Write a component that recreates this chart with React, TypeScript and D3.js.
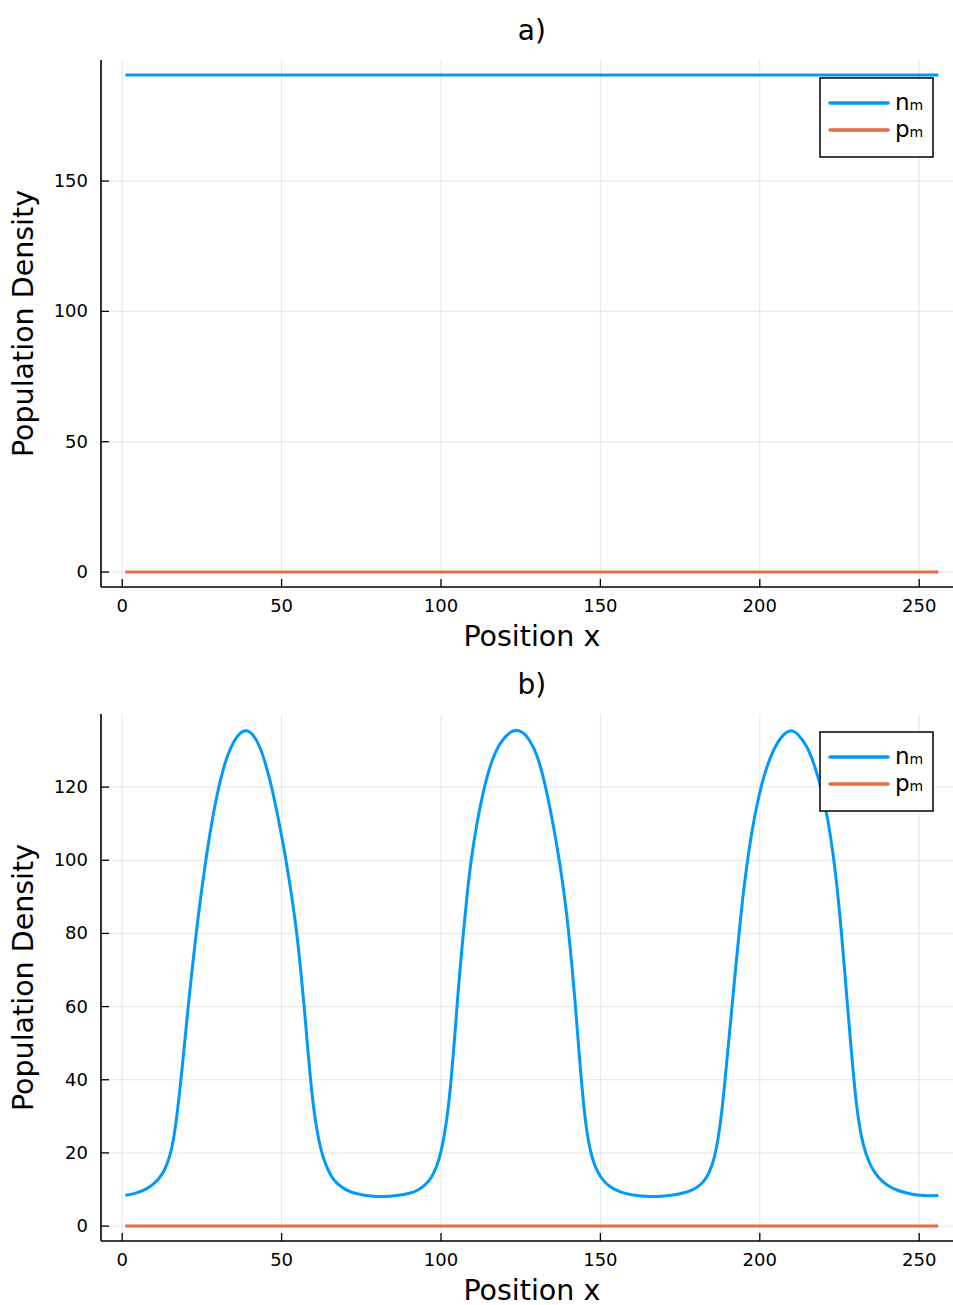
import React from "react";
import * as d3 from "d3";

// ---- data ----
const xTicks = [0, 50, 100, 150, 200, 250];
const yTicksA = [0, 50, 100, 150];
const yTicksB = [0, 20, 40, 60, 80, 100, 120];

// panel a): constant profiles
const xA = [1, 256];
const nA = [190.7, 190.7];
const pA = [0, 0];

// panel b): read-off profile of n_m
const xB = [
  1, 4, 6.6, 9, 11.3, 13.2, 14.8, 16, 17, 18, 18.9, 19.8, 20.7, 21.9, 23.2, 24.6, 26.2, 28, 30.2, 32, 33.8, 36, 38.7,
  41, 43.2, 45, 46.9, 48.5, 50.1, 51.7, 53.3, 54.8, 56, 57.1, 58.1, 59, 60, 61, 62.3, 63.7, 65.5, 67.3, 70, 73.6, 78, 82,
  86, 90.4, 93, 95.1, 97, 98.7, 100.1, 101.3, 102.4, 103.3, 104.2, 105, 106, 107, 108.1, 109.4, 111.2, 113.4, 115.6, 118, 121, 124,
  126.5, 129.1, 131, 132.7, 134.2, 135.8, 137.3, 138.7, 140, 141.1, 142.1, 143, 143.8, 144.8, 145.9, 147.3, 149, 151, 153.1, 156, 160.5, 164, 167.8,
  172, 177.2, 180, 182.5, 184.2, 185.6, 186.9, 188.1, 189.1, 190.2, 191.3, 192.4, 193.5, 194.6, 195.9, 197.5, 199.5, 201.5, 204, 206.7, 209.5,
  212, 214.9, 217.2, 219.4, 221.3, 223, 224.4, 225.5, 226.5, 227.5, 228.5, 229.5, 230.6, 231.8, 233.2, 234.8, 237, 240.1, 243, 246, 249.5, 253, 256,
];
const nB = [
  8.4, 8.9, 9.7, 10.9, 12.6, 15.0, 18.5, 23, 29, 36.5, 44, 52, 60, 70, 80, 90, 100, 110, 120, 126, 130.4, 134.1, 135.9,
  134.6, 131.2, 126.4, 120, 113.5, 106.3, 98.5, 89.6, 80, 70, 60, 49.5, 40.5, 32.5, 26.5, 20.8, 17, 13.6, 11.6, 9.9, 8.7, 8.2, 8.0,
  8.3, 8.9, 9.9, 11.2, 13.2, 16.2, 20.5, 26, 33, 41, 50.5, 60, 70.5, 80, 90, 100, 110, 119.5, 126.5, 131.5, 134.8, 135.9,
  134.6, 131, 126.5, 120.5, 114.3, 106.8, 99, 90.5, 81, 71, 61, 51, 42, 32.5, 24.5, 18.7, 14.8, 12.3, 10.6, 9.3, 8.4, 8.1, 8.0,
  8.3, 9.2, 10.3, 12.1, 14.6, 18, 23.5, 31, 40, 50, 60, 70.4, 80, 89.5, 98.5, 108, 117, 123.8, 129.8, 133.9, 135.9,
  134.6, 131.2, 126, 119.5, 111.5, 102, 91.5, 81.5, 71, 60.5, 50, 40, 31, 24.5, 19.8, 16.3, 13.3, 11, 9.8, 9, 8.4, 8.2, 8.4,
];
const pB = xB.map(() => 0);

const seriesNames = ["n", "p"];
const seriesColors = ["#009AFA", "#E26F46"];

const FONT = "DejaVu Sans, sans-serif";

type PanelProps = {
  title: string;
  top: number;
  bottom: number;
  xs: number[];
  n: number[];
  p: number[];
  yTicks: number[];
};

function Panel({ title, top, bottom, xs, n, p, yTicks }: PanelProps) {
  const left = 101;
  const right = 962.7;
  const xmin = d3.min(xs) as number, xmax = d3.max(xs) as number;
  const xpad = (xmax - xmin) * 0.03;
  const x = d3.scaleLinear().domain([xmin - xpad, xmax + xpad]).range([left, right]);
  const ymax = Math.max(...n, ...p);
  const ymin = Math.min(...n, ...p);
  const ypad = (ymax - ymin) * 0.03;
  const y = d3.scaleLinear().domain([ymin - ypad, ymax + ypad]).range([bottom, top]);
  const line = d3
    .line<[number, number]>()
    .x((d) => x(d[0]))
    .y((d) => y(d[1]))
    .curve(d3.curveBasis);
  const nPts = xs.map((v, i) => [v, n[i]] as [number, number]);
  const pPts = xs.map((v, i) => [v, p[i]] as [number, number]);
  const cx = (left + right) / 2;
  const cy = (top + bottom) / 2;
  const lgX = 820, lgY = top + 18, lgW = 113, lgH = 79;
  return (
    <g>
      <text x={cx} y={top - 20} textAnchor="middle" fontSize={28} fontFamily={FONT} fill="#000">
        {title}
      </text>
      {xTicks.map((t) => (
        <line key={"gx" + t} x1={x(t)} x2={x(t)} y1={top} y2={bottom} stroke="#000" strokeOpacity={0.1} strokeWidth={1} />
      ))}
      {yTicks.map((t) => (
        <line key={"gy" + t} x1={left} x2={right} y1={y(t)} y2={y(t)} stroke="#000" strokeOpacity={0.1} strokeWidth={1} />
      ))}
      <path d={line(pPts) || ""} fill="none" stroke={seriesColors[1]} strokeWidth={3} />
      <path d={line(nPts) || ""} fill="none" stroke={seriesColors[0]} strokeWidth={3} />
      <line x1={left} x2={right} y1={bottom} y2={bottom} stroke="#000" strokeWidth={1.6} />
      <line x1={left} x2={left} y1={top} y2={bottom} stroke="#000" strokeWidth={1.6} />
      {xTicks.map((t) => (
        <g key={"xt" + t}>
          <line x1={x(t)} x2={x(t)} y1={bottom} y2={bottom - 8} stroke="#000" strokeWidth={1.3} />
          <text x={x(t)} y={bottom + 25} textAnchor="middle" fontSize={18} fontFamily={FONT} fill="#000">
            {t}
          </text>
        </g>
      ))}
      {yTicks.map((t) => (
        <g key={"yt" + t}>
          <line x1={left} x2={left + 8} y1={y(t)} y2={y(t)} stroke="#000" strokeWidth={1.3} />
          <text x={left - 13} y={y(t) + 6} textAnchor="end" fontSize={18} fontFamily={FONT} fill="#000">
            {t}
          </text>
        </g>
      ))}
      <text x={cx} y={bottom + 59} textAnchor="middle" fontSize={28.5} fontFamily={FONT} fill="#000">
        Position x
      </text>
      <text
        transform={`translate(33,${cy}) rotate(-90)`}
        textAnchor="middle"
        fontSize={28.5}
        fontFamily={FONT}
        fill="#000"
      >
        Population Density
      </text>
      <rect x={lgX} y={lgY} width={lgW} height={lgH} fill="#fff" stroke="#000" strokeWidth={1.5} />
      {seriesNames.map((s, i) => (
        <g key={s}>
          <line
            x1={lgX + 10}
            x2={lgX + 68}
            y1={lgY + 25 + i * 27}
            y2={lgY + 25 + i * 27}
            stroke={seriesColors[i]}
            strokeWidth={3.5}
            strokeLinecap="round"
          />
          <text x={lgX + 75} y={lgY + 32 + i * 27} fontSize={23} fontFamily={FONT} fill="#000">
            {s}
            <tspan fontSize={14}>m</tspan>
          </text>
        </g>
      ))}
    </g>
  );
}

export default function App() {
  return (
    <div style={{ position: "absolute", left: 0, top: 0 }}>
      <svg width={953} height={1305} style={{ display: "block", background: "#fff" }}>
        <Panel title="a)" top={60} bottom={587} xs={xA} n={nA} p={pA} yTicks={yTicksA} />
        <Panel title="b)" top={714} bottom={1241} xs={xB} n={nB} p={pB} yTicks={yTicksB} />
      </svg>
    </div>
  );
}
